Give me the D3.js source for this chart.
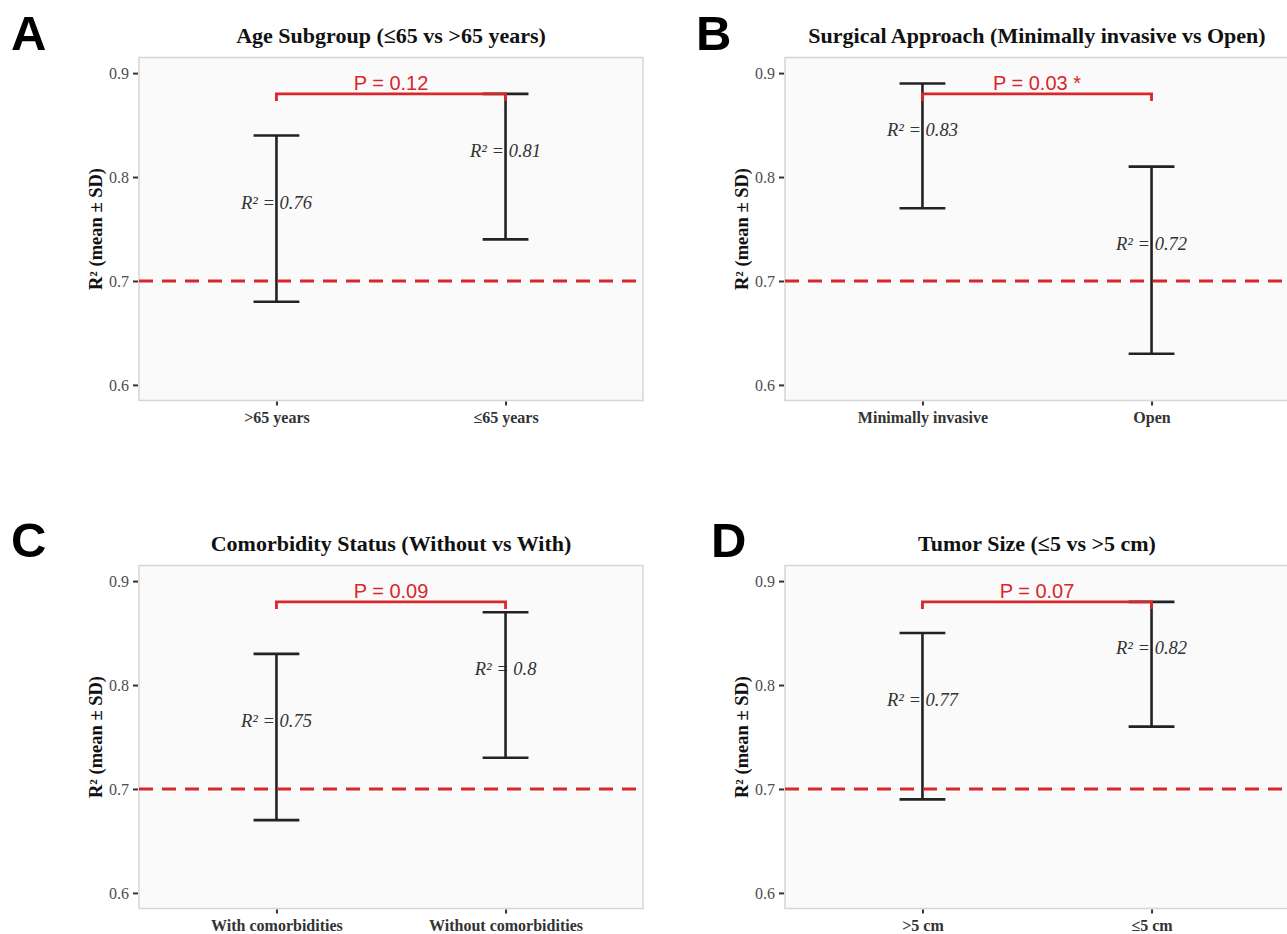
<!DOCTYPE html>
<html>
<head>
<meta charset="utf-8" />
<title>R2 subgroup panels</title>
<script src="https://d3js.org/d3.v7.min.js"></script>
<style>
  body { margin: 0; background: #ffffff; }
  svg { display: block; }
</style>
</head>
<body>
<svg id="viz"></svg>

<script>
// values
var panelLetters = ["A", "B", "C", "D"];
var panelTitles = [
  "Age Subgroup (\u226465 vs >65 years)",
  "Surgical Approach (Minimally invasive vs Open)",
  "Comorbidity Status (Without vs With)",
  "Tumor Size (\u22645 vs >5 cm)"
];
var groupNames = [
  [">65 years", "\u226465 years"],
  ["Minimally invasive", "Open"],
  ["With comorbidities", "Without comorbidities"],
  [">5 cm", "\u22645 cm"]
];
var meanR2 = [
  [0.76, 0.81],
  [0.83, 0.72],
  [0.75, 0.8],
  [0.77, 0.82]
];
var sdR2 = [
  [0.08, 0.07],
  [0.06, 0.09],
  [0.08, 0.07],
  [0.08, 0.06]
];
var pLabels = ["P = 0.12", "P = 0.03 *", "P = 0.09", "P = 0.07"];
var yTicks = [0.6, 0.7, 0.8, 0.9];
var yDomain = [0.585, 0.915];
var refLine = 0.7;
var bracketY = 0.88;

var W = 1287, H = 934;
var svg = d3.select("#viz").attr("width", W).attr("height", H);

var serif = "'Liberation Serif', 'Times New Roman', serif";
var sans = "'Liberation Sans', Arial, sans-serif";
var red = "#d9262b";

// plot area of panel A, others are shifted
var plotW = 504, plotH = 343;
var offsets = [[139, 57.5], [785, 57.5], [139, 565.5], [785, 565.5]];
var letterPos = [[11, 50], [696, 50], [11, 557], [711, 557]];

panelLetters.forEach(function(letter, i) {
  var ox = offsets[i][0], oy = offsets[i][1];

  var x = d3.scalePoint()
    .domain(groupNames[i])
    .range([0, plotW])
    .padding(0.6);
  var y = d3.scaleLinear().domain(yDomain).range([plotH, 0]);
  var capHalf = x.step() * 0.1;

  svg.append("text")
    .attr("x", letterPos[i][0]).attr("y", letterPos[i][1])
    .style("font-family", sans).style("font-weight", "bold")
    .style("font-size", "49px").attr("fill", "#000")
    .text(letter);

  svg.append("text")
    .attr("x", ox + plotW / 2).attr("y", oy - 14.5)
    .attr("text-anchor", "middle")
    .style("font-family", serif).style("font-weight", "bold")
    .style("font-size", "22px").attr("fill", "#111")
    .text(panelTitles[i]);

  var g = svg.append("g").attr("transform", "translate(" + ox + "," + oy + ")");

  g.append("rect")
    .attr("width", plotW).attr("height", plotH)
    .attr("fill", "#fafafa").attr("stroke", "#d6d6d6").attr("stroke-width", 1.5);

  // axes
  var ya = g.append("g").call(d3.axisLeft(y).tickValues(yTicks).tickSize(5).tickPadding(4).tickFormat(d3.format(".1f")));
  ya.select(".domain").remove();
  ya.selectAll("line").attr("stroke", "#333").attr("stroke-width", 2).attr("transform", "translate(-1,0)");
  ya.selectAll("text")
    .style("font-family", serif).style("font-size", "16px").attr("fill", "#4d4d4d")
    .attr("dx", "-1");

  var xa = g.append("g").attr("transform", "translate(0," + plotH + ")")
    .call(d3.axisBottom(x).tickSize(4).tickPadding(4));
  xa.select(".domain").remove();
  xa.selectAll("line").attr("stroke", "#333").attr("stroke-width", 2).attr("transform", "translate(0,1)");
  xa.selectAll("text")
    .style("font-family", serif).style("font-weight", "bold").style("font-size", "16px")
    .attr("fill", "#333").attr("dy", "0.9em");

  svg.append("text")
    .attr("transform", "translate(" + (ox - 43) + "," + (oy + plotH / 2) + ") rotate(-90)")
    .attr("text-anchor", "middle").attr("dominant-baseline", "central")
    .style("font-family", serif).style("font-weight", "bold").style("font-size", "18.5px")
    .attr("fill", "#111")
    .text("R\u00b2 (mean \u00b1 SD)");

  // labels, then bars
  var rows = groupNames[i].map(function(name, j) {
    return { name: name, mean: meanR2[i][j], sd: sdR2[i][j] };
  });

  g.selectAll("text.r2").data(rows).enter().append("text")
    .attr("class", "r2")
    .attr("x", function(d) { return x(d.name); })
    .attr("y", function(d) { return y(d.mean) - 10; })
    .attr("text-anchor", "middle")
    .style("font-family", serif).style("font-style", "italic").style("font-size", "18.5px")
    .attr("fill", "#333")
    .text(function(d) { return "R\u00b2 = " + d.mean; });

  var bars = g.selectAll("g.bar").data(rows).enter().append("g").attr("class", "bar")
    .attr("stroke", "#222").attr("stroke-width", 2.6);
  bars.append("line")
    .attr("x1", function(d) { return x(d.name); }).attr("x2", function(d) { return x(d.name); })
    .attr("y1", function(d) { return y(d.mean + d.sd); }).attr("y2", function(d) { return y(d.mean - d.sd); });
  bars.append("line")
    .attr("x1", function(d) { return x(d.name) - capHalf; }).attr("x2", function(d) { return x(d.name) + capHalf; })
    .attr("y1", function(d) { return y(d.mean + d.sd); }).attr("y2", function(d) { return y(d.mean + d.sd); });
  bars.append("line")
    .attr("x1", function(d) { return x(d.name) - capHalf; }).attr("x2", function(d) { return x(d.name) + capHalf; })
    .attr("y1", function(d) { return y(d.mean - d.sd); }).attr("y2", function(d) { return y(d.mean - d.sd); });

  // reference line
  g.append("line")
    .attr("x1", 0).attr("x2", plotW)
    .attr("y1", y(refLine)).attr("y2", y(refLine))
    .attr("stroke", red).attr("stroke-width", 3)
    .attr("stroke-dasharray", "14,9");

  // comparison bracket
  var xa1 = x(groupNames[i][0]), xa2 = x(groupNames[i][1]), yb = y(bracketY);
  g.append("path")
    .attr("d", "M" + xa1 + "," + (yb + 7) + "V" + yb + "H" + xa2 + "V" + (yb + 7))
    .attr("fill", "none").attr("stroke", red).attr("stroke-width", 2.8);
  g.append("text")
    .attr("x", (xa1 + xa2) / 2).attr("y", yb - 4)
    .attr("text-anchor", "middle")
    .style("font-family", sans).style("font-size", "20px").attr("fill", red)
    .text(pLabels[i]);
});
</script>
</body>
</html>
